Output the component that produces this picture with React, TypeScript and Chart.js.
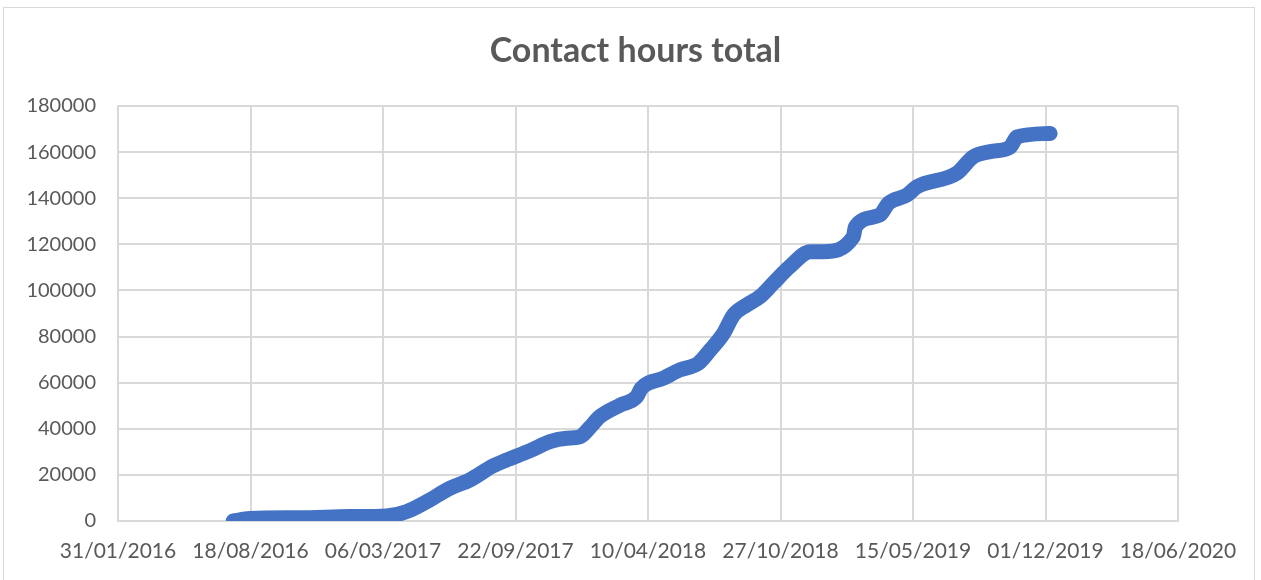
import React, { useEffect, useRef } from "react";
import { Chart, registerables } from "chart.js";

Chart.register(...registerables);

const TITLE = "Contact hours total";

const dates: string[] = [
  "2016-07-23", "2016-08-17", "2016-10-31", "2017-01-15", "2017-03-11",
  "2017-04-10", "2017-05-11", "2017-06-15", "2017-07-15", "2017-08-19",
  "2017-09-09", "2017-10-14", "2017-11-13", "2017-12-08", "2017-12-28",
  "2018-01-12", "2018-01-27", "2018-02-27", "2018-03-24", "2018-03-31",
  "2018-05-03", "2018-05-28", "2018-06-25", "2018-07-13", "2018-08-02",
  "2018-08-17", "2018-09-06", "2018-09-26", "2018-10-16", "2018-11-10",
  "2018-12-11", "2018-12-31", "2019-02-14", "2019-02-17", "2019-03-26",
  "2019-04-08", "2019-05-06", "2019-05-21", "2019-07-20", "2019-08-14",
  "2019-09-09", "2019-10-09", "2019-10-19", "2019-12-08",
];

// Cumulative contact hours
const hours: number[] = [
  0, 1100, 1400, 1900, 2200,
  4000, 8400, 14200, 17800, 23900,
  26500, 30500, 34400, 35900, 36500,
  40500, 45200, 50300, 53900, 57600,
  61900, 65500, 68400, 74200, 81400,
  89300, 93700, 97300, 103100, 110300,
  116800, 116800, 123300, 127600, 132700,
  137800, 141400, 145000, 150800, 158000,
  160200, 162300, 166600, 168100,
];

// Axis settings
const X_START = "2016-01-31";
const X_END = "2020-06-18";
const X_STEP_DAYS = 200;
const Y_MIN = 0;
const Y_MAX = 180000;
const Y_STEP = 20000;

const DAY_MS = 86400000;
const toDay = (s: string) => {
  const [y, m, d] = s.split("-").map(Number);
  return Date.UTC(y, m - 1, d) / DAY_MS;
};
const pad2 = (n: number) => (n < 10 ? "0" + n : String(n));
const fmtDay = (day: number) => {
  const dt = new Date(Math.round(day) * DAY_MS);
  return `${pad2(dt.getUTCDate())}/${pad2(dt.getUTCMonth() + 1)}/${dt.getUTCFullYear()}`;
};

const FONT = "Lato, 'Liberation Sans', sans-serif";
const TEXT = "#595959";
const GRID = "#d9d9d9";

// Title drawn centred on the whole chart (not just the plot area)
const titlePlugin = {
  id: "centredTitle",
  afterDraw(chart: any) {
    const ctx = chart.ctx;
    ctx.save();
    ctx.fillStyle = TEXT;
    ctx.font = `bold 34px ${FONT}`;
    ctx.textAlign = "center";
    ctx.textBaseline = "middle";
    ctx.fillText(TITLE, chart.width / 2 + 5, 51);
    ctx.restore();
  },
};

export default function App() {
  const ref = useRef<HTMLCanvasElement | null>(null);

  useEffect(() => {
    if (!ref.current) return;
    const start = toDay(X_START);
    const end = toDay(X_END);
    const points = dates.map((d, i) => ({ x: toDay(d) - start, y: hours[i] }));

    const chart = new Chart(ref.current, {
      type: "line",
      data: {
        datasets: [
          {
            label: TITLE,
            data: points,
            borderColor: "#4472C4",
            backgroundColor: "#4472C4",
            borderWidth: 15,
            borderCapStyle: "round",
            borderJoinStyle: "round",
            pointRadius: 0,
            cubicInterpolationMode: "monotone",
            fill: false,
          },
        ],
      },
      plugins: [titlePlugin],
      options: {
        animation: false,
        responsive: false,
        layout: { padding: { left: 0, right: 83, top: 106, bottom: 0 } },
        plugins: {
          legend: { display: false },
          tooltip: { enabled: false },
          title: { display: false },
        },
        scales: {
          x: {
            type: "linear",
            min: 0,
            max: end - start,
            afterFit: (axis: any) => {
              axis.height = 59;
            },
            ticks: {
              stepSize: X_STEP_DAYS,
              autoSkip: false,
              maxRotation: 0,
              color: TEXT,
              padding: 18,
              font: { family: FONT, size: 21 },
              callback: (v: any) => fmtDay(Number(v) + start),
            },
            grid: { color: GRID, lineWidth: 2, drawTicks: false },
            border: { color: GRID, width: 2 },
          },
          y: {
            min: Y_MIN,
            max: Y_MAX,
            afterFit: (axis: any) => {
              axis.width = 118;
            },
            ticks: {
              stepSize: Y_STEP,
              color: TEXT,
              padding: 22,
              font: { family: FONT, size: 20 },
              callback: (v: any) => String(v),
            },
            grid: { color: GRID, lineWidth: 2, drawTicks: false },
            border: { color: GRID, width: 2 },
          },
        },
      },
    });
    return () => chart.destroy();
  }, []);

  return (
    <div style={{ position: "fixed", left: 0, top: 0, width: 1261, height: 580, background: "#fff" }}>
      <div
        style={{
          position: "absolute",
          left: 3,
          top: 7,
          width: 1252,
          height: 590,
          border: "1px solid #d9d9d9",
          boxSizing: "border-box",
        }}
      />
      <canvas ref={ref} width={1261} height={580} style={{ position: "absolute", left: 0, top: 0 }} />
    </div>
  );
}
